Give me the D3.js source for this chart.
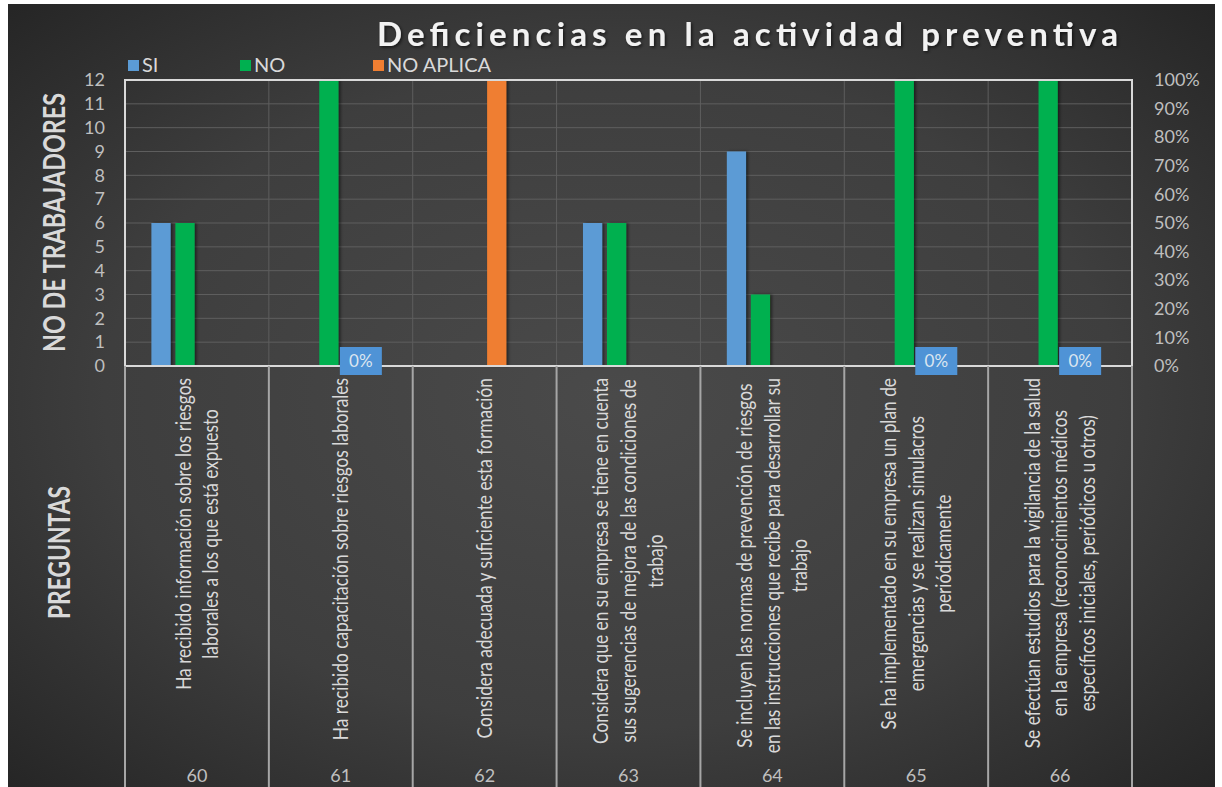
<!DOCTYPE html>
<html><head><meta charset="utf-8">
<script src="https://cdn.jsdelivr.net/npm/d3@7"></script>
<style>body{margin:0;background:#fff;overflow:hidden}</style>
</head><body><svg id="c" width="1222" height="787"></svg>
<script>
// ---------- DATA ----------
const categories = ["60","61","62","63","64","65","66"];
const questions = [
  ["Ha recibido información sobre los riesgos","laborales a los que está expuesto"],
  ["Ha recibido  capacitación  sobre riesgos laborales"],
  ["Considera adecuada y suficiente esta formación"],
  ["Considera que en su  empresa se tiene en cuenta","sus sugerencias de mejora de las condiciones de","trabajo"],
  ["Se incluyen las normas de prevención de riesgos","en las instrucciones que recibe para desarrollar su","trabajo"],
  ["Se ha implementado en su empresa un plan de","emergencias  y  se realizan simulacros","periódicamente"],
  ["Se efectúan estudios para la vigilancia de la salud","en la empresa (reconocimientos médicos","específicos iniciales, periódicos u otros)"]
];
const seriesNames = ["SI","NO","NO APLICA"];
const siValues = [6,0,0,6,9,0,0];
const noValues = [6,12,0,6,3,12,12];
const noAplicaValues = [0,0,12,0,0,0,0];
const pctValues = [null,0,null,null,null,0,0];
const yTicks = d3.range(0,13);
const pctTicks = d3.range(0,1.001,0.1);
const titleText = "Deficiencias en la actividad preventiva";
const yTitle = "NO DE TRABAJADORES";
const xTitle = "PREGUNTAS";

// ---------- LAYOUT ----------
const W=1222,H=787;
const L=125,R=1132,T=80,B=366;
const colors = {"SI":"#5b9bd5","NO":"#00b050","NO APLICA":"#ef7e32"};
const svg = d3.select("#c");
const defs = svg.append("defs");
const rg = defs.append("radialGradient").attr("id","bg").attr("cx","50%").attr("cy","50%").attr("r","70%");
rg.append("stop").attr("offset","0%").attr("stop-color","#4a4a4a");
rg.append("stop").attr("offset","60%").attr("stop-color","#3e3e3e");
rg.append("stop").attr("offset","100%").attr("stop-color","#262626");
const sh = defs.append("filter").attr("id","sh").attr("x","-10%").attr("y","-10%").attr("width","130%").attr("height","130%");
sh.append("feDropShadow").attr("dx",1.5).attr("dy",1.5).attr("stdDeviation",1.5).attr("flood-color","#000").attr("flood-opacity",0.6);
const bsh = defs.append("filter").attr("id","bsh").attr("x","-30%").attr("y","-5%").attr("width","170%").attr("height","110%");
bsh.append("feDropShadow").attr("dx",2).attr("dy",0).attr("stdDeviation",1.5).attr("flood-color","#000").attr("flood-opacity",0.5);

svg.append("rect").attr("width",W).attr("height",H).attr("fill","#fff");
svg.append("rect").attr("x",8).attr("y",4).attr("width",1207).attr("height",H).attr("fill","url(#bg)");

const x0 = d3.scaleBand().domain(categories).range([L,R]);
const slots = ["SI","NO","NO APLICA","PCT"];
const x1 = d3.scaleBand().domain(slots).range([24,120]).paddingInner(0.2).paddingOuter(0.1);
const y = d3.scaleLinear().domain([0,12]).range([B,T]);
const yp = d3.scaleLinear().domain([0,1]).range([B,T]);

// grid
const grid = svg.append("g");
grid.selectAll("line.h").data(yTicks.filter(d=>d>0&&d<12)).join("line")
  .attr("x1",L).attr("x2",R).attr("y1",d=>y(d)).attr("y2",d=>y(d))
  .attr("stroke","#5e5e5e").attr("stroke-width",1);
grid.selectAll("line.v").data(categories.slice(1)).join("line")
  .attr("x1",d=>x0(d)).attr("x2",d=>x0(d)).attr("y1",T).attr("y2",B)
  .attr("stroke","#5e5e5e").attr("stroke-width",1);

// bars
const rows = categories.map((c,i)=>({cat:c, vals:[
  {key:"SI",v:siValues[i]},{key:"NO",v:noValues[i]},{key:"NO APLICA",v:noAplicaValues[i]}]}));
const gb = svg.append("g").selectAll("g").data(rows).join("g").attr("transform",d=>`translate(${x0(d.cat)},0)`);
gb.selectAll("rect").data(d=>d.vals.filter(v=>v.v>0)).join("rect")
  .attr("x",d=>x1(d.key)).attr("width",x1.bandwidth())
  .attr("y",d=>y(d.v)).attr("height",d=>y(0)-y(d.v))
  .attr("fill",d=>colors[d.key]).attr("filter","url(#bsh)");

// plot border
svg.append("rect").attr("x",L).attr("y",T).attr("width",R-L).attr("height",B-T)
  .attr("fill","none").attr("stroke","#d9d9d9").attr("stroke-width",2);

// category separators below axis
svg.append("g").selectAll("line").data(d3.range(categories.length+1)).join("line")
  .attr("x1",i=>L+i*x0.step()).attr("x2",i=>L+i*x0.step()).attr("y1",B).attr("y2",H)
  .attr("stroke","#a6a6a6").attr("stroke-width",2);

// pct labels
const pl = svg.append("g").selectAll("g").data(categories.map((c,i)=>({cat:c,v:pctValues[i]})).filter(d=>d.v!==null)).join("g")
  .attr("transform",d=>`translate(${x0(d.cat)+x1("NO APLICA")+x1.bandwidth()/2+8},${yp(d.v)-5})`);
pl.append("rect").attr("x",-21).attr("y",-14).attr("width",42).attr("height",28).attr("fill","#4f93d6");
pl.append("text").attr("text-anchor","middle").attr("y",6).attr("font-family","Lato, 'Open Sans', sans-serif")
  .attr("font-size",17).attr("fill","#dce6f0").text(d=>d3.format(".0%")(d.v));

// axes
const fontTick = "Lato, 'Open Sans', sans-serif";
const ya = svg.append("g").attr("transform",`translate(${L},0)`).call(d3.axisLeft(y).tickValues(yTicks).tickSize(0).tickPadding(20));
ya.select(".domain").remove();
ya.selectAll("text").attr("font-family",fontTick).attr("font-size",18).attr("fill","#bfbfbf");
const ra = svg.append("g").attr("transform",`translate(${R},0)`).call(d3.axisRight(yp).tickValues(pctTicks).tickFormat(d3.format(".0%")).tickSize(0).tickPadding(22));
ra.select(".domain").remove();
ra.selectAll("text").attr("font-family",fontTick).attr("font-size",18).attr("fill","#bfbfbf");

// category numbers
svg.append("g").selectAll("text").data(categories).join("text")
  .attr("x",d=>x0(d)+x0.bandwidth()/2).attr("y",782).attr("text-anchor","middle")
  .attr("font-family",fontTick).attr("font-size",18).attr("fill","#bfbfbf").text(d=>d);

// question labels (rotated)
const squeeze = 0.825, lineGap = 27.5, topY = 378;
questions.forEach((lines,i)=>{
  const cx = x0(categories[i]) + x0.bandwidth()/2;
  const g = svg.append("g");
  const ts = lines.map((ln,j)=>g.append("text").attr("text-anchor","middle")
     .attr("font-family",fontTick).attr("font-size",21).attr("fill","#d9d9d9")
     .attr("dy","0.35em").attr("y",(j-(lines.length-1)/2)*lineGap).text(ln));
  let maxL = 0;
  ts.forEach(t=>{ const len = t.node().getComputedTextLength()*squeeze; t.attr("textLength",len).attr("lengthAdjust","spacingAndGlyphs"); maxL=Math.max(maxL,len); });
  g.attr("transform",`translate(${cx},${topY+maxL/2}) rotate(-90)`);
});

// titles
svg.append("text").attr("x",377).attr("y",46).attr("font-family","Lato, sans-serif").attr("font-weight","bold")
  .attr("font-size",33).attr("fill","#f2f2f2").attr("textLength",741).attr("lengthAdjust","spacing")
  .attr("filter","url(#sh)").text(titleText);
svg.append("text").attr("transform",`translate(65,${(93+352)/2}) rotate(-90)`).attr("text-anchor","middle")
  .attr("font-family","Lato, sans-serif").attr("font-weight","bold").attr("font-size",30).attr("fill","#d9d9d9")
  .attr("textLength",259).attr("lengthAdjust","spacingAndGlyphs").text(yTitle);
svg.append("text").attr("transform",`translate(70,${(486+619)/2}) rotate(-90)`).attr("text-anchor","middle")
  .attr("font-family","Lato, sans-serif").attr("font-weight","bold").attr("font-size",30).attr("fill","#d9d9d9")
  .attr("textLength",133).attr("lengthAdjust","spacingAndGlyphs").text(xTitle);

// legend
const legX = [128,240,373];
const lg = svg.append("g").selectAll("g").data(seriesNames).join("g").attr("transform",(d,i)=>`translate(${legX[i]},60)`);
lg.append("rect").attr("width",11).attr("height",11).attr("fill",d=>colors[d]);
lg.append("text").attr("x",14).attr("y",12).attr("font-family",fontTick).attr("font-size",20).attr("fill","#d9d9d9").text(d=>d);
</script></body></html>
